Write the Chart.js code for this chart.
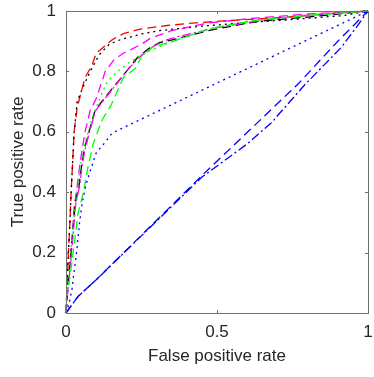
<!DOCTYPE html>
<html lang="en">
<head>
<meta charset="UTF-8">
<title>ROC curves</title>
<script src="https://cdn.jsdelivr.net/npm/chart.js"></script>
<style>
  body { margin: 0; background: #fff; }
</style>
</head>
<body>
<canvas id="roc" width="374" height="377"></canvas>
<script>
  // tick positions
  const xTicks = [0, 0.5, 1];
  const yTicks = [0, 0.2, 0.4, 0.6, 0.8, 1];

  // ROC curves (false positive rate / true positive rate)
  const redFpr = [0, 0.004, 0.008, 0.013, 0.017, 0.022, 0.027, 0.037, 0.05, 0.063, 0.086, 0.1, 0.153, 0.19, 0.245, 0.335, 0.42, 0.52, 0.7, 0.85, 1];
  const redTpr = [0, 0.1, 0.2, 0.3, 0.4, 0.5, 0.6, 0.68, 0.73, 0.78, 0.82, 0.86, 0.905, 0.925, 0.94, 0.952, 0.96, 0.967, 0.978, 0.99, 1];

  const blackFpr = [0, 0.004, 0.008, 0.013, 0.017, 0.022, 0.027, 0.037, 0.053, 0.08, 0.11, 0.143, 0.18, 0.25, 0.31, 0.45, 0.58, 0.75, 0.92, 1];
  const blackTpr = [0, 0.1, 0.2, 0.3, 0.4, 0.5, 0.6, 0.7, 0.74, 0.8, 0.855, 0.89, 0.905, 0.924, 0.935, 0.95, 0.96, 0.972, 0.985, 1];

  const magentaFpr = [0, 0.005, 0.01, 0.02, 0.027, 0.037, 0.047, 0.063, 0.08, 0.1, 0.13, 0.16, 0.19, 0.25, 0.28, 0.35, 0.47, 0.61, 0.8, 1];
  const magentaTpr = [0, 0.08, 0.14, 0.24, 0.35, 0.42, 0.5, 0.6, 0.67, 0.71, 0.8, 0.84, 0.86, 0.89, 0.91, 0.935, 0.96, 0.975, 0.99, 1];

  const black2Fpr = [0, 0.005, 0.01, 0.02, 0.03, 0.043, 0.053, 0.06, 0.076, 0.096, 0.13, 0.163, 0.2, 0.236, 0.276, 0.31, 0.355, 0.47, 0.63, 0.8, 1];
  const black2Tpr = [0, 0.07, 0.13, 0.24, 0.36, 0.42, 0.5, 0.54, 0.6, 0.67, 0.715, 0.755, 0.8, 0.845, 0.877, 0.895, 0.905, 0.935, 0.965, 0.98, 1];

  const magenta2Fpr = [0, 0.006, 0.012, 0.022, 0.032, 0.045, 0.055, 0.063, 0.078, 0.098, 0.133, 0.165, 0.2, 0.24, 0.28, 0.32, 0.37, 0.5, 0.65, 0.8, 1];
  const magenta2Tpr = [0, 0.07, 0.13, 0.24, 0.36, 0.42, 0.5, 0.54, 0.6, 0.67, 0.715, 0.755, 0.8, 0.845, 0.877, 0.9, 0.915, 0.945, 0.97, 0.985, 1];

  const greenDotFpr = [0, 0.005, 0.01, 0.02, 0.03, 0.04, 0.05, 0.065, 0.085, 0.1, 0.12, 0.136, 0.16, 0.21, 0.28, 0.355, 0.47, 0.63, 0.8, 1];
  const greenDotTpr = [0, 0.07, 0.14, 0.25, 0.35, 0.43, 0.5, 0.57, 0.64, 0.68, 0.73, 0.765, 0.79, 0.83, 0.87, 0.9, 0.94, 0.97, 0.985, 1];

  const greenDashFpr = [0, 0.003, 0.01, 0.02, 0.03, 0.04, 0.06, 0.07, 0.09, 0.12, 0.15, 0.19, 0.23, 0.25, 0.286, 0.355, 0.47, 0.63, 0.8, 1];
  const greenDashTpr = [0, 0.08, 0.1, 0.17, 0.25, 0.33, 0.41, 0.47, 0.56, 0.64, 0.69, 0.78, 0.81, 0.85, 0.88, 0.9, 0.94, 0.97, 0.985, 1];

  const blueDotFpr = [0, 0.01, 0.02, 0.027, 0.035, 0.045, 0.053, 0.065, 0.08, 0.1, 0.13, 0.153, 1];
  const blueDotTpr = [0, 0.03, 0.08, 0.14, 0.2, 0.3, 0.36, 0.42, 0.47, 0.53, 0.566, 0.596, 1];

  const blueDashFpr = [0, 0.04, 0.1, 0.45, 0.77, 0.9, 1];
  const blueDashTpr = [0, 0.055, 0.11, 0.455, 0.76, 0.9, 1];

  const blueDashDotFpr = [0, 0.04, 0.1, 0.45, 0.6, 0.68, 0.79, 0.91, 0.96, 1];
  const blueDashDotTpr = [0, 0.055, 0.11, 0.45, 0.56, 0.63, 0.755, 0.878, 0.944, 1];

  const DASH = [9, 5];
  const DOT = [2, 4];
  const DASHDOT = [9, 3, 2, 3];

  function curve(fpr, tpr, color, dash) {
    return {
      data: fpr.map((v, i) => ({ x: v, y: tpr[i] })),
      borderColor: color,
      borderWidth: 1.3,
      borderDash: dash,
      pointRadius: 0,
      fill: false,
      tension: 0
    };
  }

  const textColor = '#262626';
  const frameColor = '#707070';

  const framePlugin = {
    id: 'frame',
    afterDraw(chart) {
      const { ctx, chartArea: a, scales: { x, y } } = chart;
      ctx.save();
      ctx.strokeStyle = frameColor;
      ctx.lineWidth = 1;
      ctx.strokeRect(a.left + 0.5, a.top + 0.5, a.right - a.left, a.bottom - a.top);
      ctx.beginPath();
      xTicks.forEach(v => {
        const px = Math.round(x.getPixelForValue(v)) + 0.5;
        ctx.moveTo(px, a.bottom); ctx.lineTo(px, a.bottom - 3);
        ctx.moveTo(px, a.top); ctx.lineTo(px, a.top + 3);
      });
      yTicks.forEach(v => {
        const py = Math.round(y.getPixelForValue(v)) + 0.5;
        ctx.moveTo(a.left, py); ctx.lineTo(a.left + 3, py);
        ctx.moveTo(a.right, py); ctx.lineTo(a.right - 3, py);
      });
      ctx.stroke();
      ctx.restore();
    }
  };

  const font = { family: '"Liberation Sans", Arial, sans-serif', size: 17 };

  new Chart(document.getElementById('roc'), {
    type: 'scatter',
    data: {
      datasets: [
        curve(blueDashFpr, blueDashTpr, '#0000ff', DASH),
        curve(blueDashDotFpr, blueDashDotTpr, '#0000ff', DASHDOT),
        curve(blueDotFpr, blueDotTpr, '#0000ff', DOT),
        curve(greenDashFpr, greenDashTpr, '#00ff00', DASH),
        curve(greenDotFpr, greenDotTpr, '#00ff00', DOT),
        curve(magenta2Fpr, magenta2Tpr, '#ff00ff', DASHDOT),
        curve(black2Fpr, black2Tpr, '#000000', DASH),
        curve(magentaFpr, magentaTpr, '#ff00ff', DASH),
        curve(blackFpr, blackTpr, '#000000', DOT),
        curve(redFpr, redTpr, '#ff0000', DASH)
      ]
    },
    options: {
      responsive: false,
      animation: false,
      showLine: true,
      clip: false,
      layout: { padding: { left: 0, right: 6, top: 11, bottom: 0 } },
      plugins: { legend: { display: false }, tooltip: { enabled: false } },
      scales: {
        x: {
          type: 'linear',
          min: 0,
          max: 1,
          afterBuildTicks: s => { s.ticks = xTicks.map(v => ({ value: v })); },
          afterFit: s => { s.height = 64; s.paddingLeft = 0; s.paddingRight = 0; },
          grid: { display: false, drawTicks: false },
          border: { display: false },
          ticks: { color: textColor, font, padding: 9, maxRotation: 0, callback: v => String(v) },
          title: { display: true, text: 'False positive rate', color: textColor, font, padding: { top: 0, bottom: 10 } }
        },
        y: {
          type: 'linear',
          min: 0,
          max: 1,
          afterBuildTicks: s => { s.ticks = yTicks.map(v => ({ value: v })); },
          afterFit: s => { s.width = 66; s.paddingTop = 0; s.paddingBottom = 0; },
          grid: { display: false, drawTicks: false },
          border: { display: false },
          ticks: { color: textColor, font, padding: 10, callback: v => String(v) },
          title: { display: true, text: 'True positive rate', color: textColor, font, padding: { top: 8, bottom: 0 } }
        }
      }
    },
    plugins: [framePlugin]
  });
</script>
</body>
</html>
